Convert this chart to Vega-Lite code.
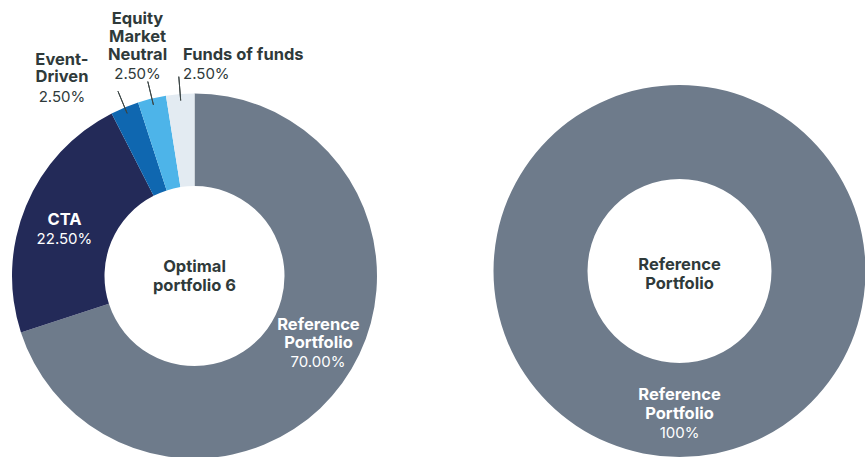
{
  "$schema": "https://vega.github.io/schema/vega-lite/v6.json",
  "width": 865,
  "height": 457,
  "padding": 0,
  "autosize": {"type": "none"},
  "background": "white",
  "config": {"view": {"stroke": null}, "font": "Inter"},
  "datasets": {
    "optimal": [
      {"donut": "Optimal portfolio 6", "idx": 1, "segment": "Reference Portfolio", "name": "Reference\nPortfolio", "weight": 70, "pct": "70.00%"},
      {"donut": "Optimal portfolio 6", "idx": 2, "segment": "CTA", "name": "CTA", "weight": 22.5, "pct": "22.50%"},
      {"donut": "Optimal portfolio 6", "idx": 3, "segment": "Event-Driven", "name": "Event-\nDriven", "weight": 2.5, "pct": "2.50%"},
      {"donut": "Optimal portfolio 6", "idx": 4, "segment": "Equity Market Neutral", "name": "Equity\nMarket\nNeutral", "weight": 2.5, "pct": "2.50%"},
      {"donut": "Optimal portfolio 6", "idx": 5, "segment": "Funds of funds", "name": "Funds of funds", "weight": 2.5, "pct": "2.50%"}
    ],
    "reference": [
      {"donut": "Reference Portfolio", "idx": 1, "segment": "Reference Portfolio", "name": "Reference\nPortfolio", "weight": 100, "pct": "100%"}
    ],
    "centers": [
      {"donut": "Optimal portfolio 6", "title": "Optimal\nportfolio 6"},
      {"donut": "Reference Portfolio", "title": "Reference\nPortfolio"}
    ]
  },
  "encoding": {
    "x": {"field": "donut", "type": "nominal", "axis": null, "scale": {"type": "point", "padding": 0, "domain": ["Optimal portfolio 6", "Reference Portfolio"], "range": [194.5, 679.5]}},
    "y": {"field": "donut", "type": "nominal", "axis": null, "scale": {"type": "point", "padding": 0, "domain": ["Optimal portfolio 6", "Reference Portfolio"], "range": [276, 271]}}
  },
  "layer": [
    {
      "data": {"name": "optimal"},
      "mark": {"type": "arc", "radius": 182.5, "radius2": 90},
      "encoding": {
        "theta": {"field": "weight", "type": "quantitative", "stack": true},
        "order": {"field": "idx", "type": "quantitative"},
        "color": {"field": "segment", "type": "nominal", "legend": null, "scale": {"domain": ["Reference Portfolio", "CTA", "Event-Driven", "Equity Market Neutral", "Funds of funds"], "range": ["#6e7b8b", "#232a58", "#0f67b0", "#4db4e9", "#e3ebf2"]}}
      }
    },
    {
      "data": {"name": "reference"},
      "mark": {"type": "arc", "radius": 186, "radius2": 92},
      "encoding": {
        "theta": {"field": "weight", "type": "quantitative", "stack": true},
        "order": {"field": "idx", "type": "quantitative"},
        "color": {"field": "segment", "type": "nominal", "legend": null}
      }
    },
    {
      "data": {"name": "optimal"},
      "mark": {"type": "arc", "radius": 200, "radius2": 176, "padAngle": 0.4, "filled": false, "stroke": "#3b4545", "strokeWidth": 1},
      "encoding": {
        "theta": {"field": "weight", "type": "quantitative", "stack": true},
        "order": {"field": "idx", "type": "quantitative"},
        "detail": {"field": "segment"},
        "strokeOpacity": {"condition": {"test": "datum.idx >= 3", "value": 1}, "value": 0}
      }
    },
    {
      "data": {"name": "optimal"},
      "mark": {"type": "text", "radius": 140, "dx": 10.7, "dy": -28.3, "align": "center", "baseline": "alphabetic", "lineBreak": "\n", "lineHeight": 18.5, "fontSize": 16.5, "fontWeight": "bold", "color": "#ffffff"},
      "encoding": {
        "theta": {"field": "weight", "type": "quantitative", "stack": true},
        "order": {"field": "idx", "type": "quantitative"},
        "detail": {"field": "segment"},
        "text": {"condition": {"test": "datum.segment === 'Reference Portfolio'", "field": "name", "type": "nominal"}, "value": ""}
      }
    },
    {
      "data": {"name": "optimal"},
      "mark": {"type": "text", "radius": 140, "dx": 10.2, "dy": 8.7, "align": "center", "baseline": "alphabetic", "fontSize": 15, "fontWeight": "normal", "color": "#ffffff"},
      "encoding": {
        "theta": {"field": "weight", "type": "quantitative", "stack": true},
        "order": {"field": "idx", "type": "quantitative"},
        "detail": {"field": "segment"},
        "text": {"condition": {"test": "datum.segment === 'Reference Portfolio'", "field": "pct", "type": "nominal"}, "value": ""}
      }
    },
    {
      "data": {"name": "optimal"},
      "mark": {"type": "text", "radius": 140, "dx": -0.7, "dy": 2.6, "align": "center", "baseline": "alphabetic", "fontSize": 16.5, "fontWeight": "bold", "color": "#ffffff"},
      "encoding": {
        "theta": {"field": "weight", "type": "quantitative", "stack": true},
        "order": {"field": "idx", "type": "quantitative"},
        "detail": {"field": "segment"},
        "text": {"condition": {"test": "datum.segment === 'CTA'", "field": "name", "type": "nominal"}, "value": ""}
      }
    },
    {
      "data": {"name": "optimal"},
      "mark": {"type": "text", "radius": 140, "dx": -0.7, "dy": 21.6, "align": "center", "baseline": "alphabetic", "fontSize": 15, "fontWeight": "normal", "color": "#ffffff"},
      "encoding": {
        "theta": {"field": "weight", "type": "quantitative", "stack": true},
        "order": {"field": "idx", "type": "quantitative"},
        "detail": {"field": "segment"},
        "text": {"condition": {"test": "datum.segment === 'CTA'", "field": "pct", "type": "nominal"}, "value": ""}
      }
    },
    {
      "data": {"name": "optimal"},
      "mark": {"type": "text", "radius": 200, "dx": -56, "dy": -26.5, "align": "center", "baseline": "alphabetic", "lineBreak": "\n", "lineHeight": 17.5, "fontSize": 16.5, "fontWeight": "bold", "color": "#2f3a3a"},
      "encoding": {
        "theta": {"field": "weight", "type": "quantitative", "stack": true},
        "order": {"field": "idx", "type": "quantitative"},
        "detail": {"field": "segment"},
        "text": {"condition": {"test": "datum.segment === 'Event-Driven'", "field": "name", "type": "nominal"}, "value": ""}
      }
    },
    {
      "data": {"name": "optimal"},
      "mark": {"type": "text", "radius": 200, "dx": -56, "dy": 10.3, "align": "center", "baseline": "alphabetic", "fontSize": 15, "fontWeight": "normal", "color": "#2f3a3a"},
      "encoding": {
        "theta": {"field": "weight", "type": "quantitative", "stack": true},
        "order": {"field": "idx", "type": "quantitative"},
        "detail": {"field": "segment"},
        "text": {"condition": {"test": "datum.segment === 'Event-Driven'", "field": "pct", "type": "nominal"}, "value": ""}
      }
    },
    {
      "data": {"name": "optimal"},
      "mark": {"type": "text", "radius": 200, "dx": -10.3, "dy": -57.5, "align": "center", "baseline": "alphabetic", "lineBreak": "\n", "lineHeight": 18, "fontSize": 16.5, "fontWeight": "bold", "color": "#2f3a3a"},
      "encoding": {
        "theta": {"field": "weight", "type": "quantitative", "stack": true},
        "order": {"field": "idx", "type": "quantitative"},
        "detail": {"field": "segment"},
        "text": {"condition": {"test": "datum.segment === 'Equity Market Neutral'", "field": "name", "type": "nominal"}, "value": ""}
      }
    },
    {
      "data": {"name": "optimal"},
      "mark": {"type": "text", "radius": 200, "dx": -10.3, "dy": -2.5, "align": "center", "baseline": "alphabetic", "fontSize": 15, "fontWeight": "normal", "color": "#2f3a3a"},
      "encoding": {
        "theta": {"field": "weight", "type": "quantitative", "stack": true},
        "order": {"field": "idx", "type": "quantitative"},
        "detail": {"field": "segment"},
        "text": {"condition": {"test": "datum.segment === 'Equity Market Neutral'", "field": "pct", "type": "nominal"}, "value": ""}
      }
    },
    {
      "data": {"name": "optimal"},
      "mark": {"type": "text", "radius": 200, "dx": 4.2, "dy": -16.6, "align": "left", "baseline": "alphabetic", "fontSize": 16.5, "fontWeight": "bold", "color": "#2f3a3a"},
      "encoding": {
        "theta": {"field": "weight", "type": "quantitative", "stack": true},
        "order": {"field": "idx", "type": "quantitative"},
        "detail": {"field": "segment"},
        "text": {"condition": {"test": "datum.segment === 'Funds of funds'", "field": "name", "type": "nominal"}, "value": ""}
      }
    },
    {
      "data": {"name": "optimal"},
      "mark": {"type": "text", "radius": 200, "dx": 4.2, "dy": 2.4, "align": "left", "baseline": "alphabetic", "fontSize": 15, "fontWeight": "normal", "color": "#2f3a3a"},
      "encoding": {
        "theta": {"field": "weight", "type": "quantitative", "stack": true},
        "order": {"field": "idx", "type": "quantitative"},
        "detail": {"field": "segment"},
        "text": {"condition": {"test": "datum.segment === 'Funds of funds'", "field": "pct", "type": "nominal"}, "value": ""}
      }
    },
    {
      "data": {"name": "reference"},
      "mark": {"type": "text", "radius": 140, "dy": -11, "align": "center", "baseline": "alphabetic", "lineBreak": "\n", "lineHeight": 19, "fontSize": 16.5, "fontWeight": "bold", "color": "#ffffff"},
      "encoding": {
        "theta": {"field": "weight", "type": "quantitative", "stack": true},
        "order": {"field": "idx", "type": "quantitative"},
        "detail": {"field": "segment"},
        "text": {"field": "name", "type": "nominal"}
      }
    },
    {
      "data": {"name": "reference"},
      "mark": {"type": "text", "radius": 140, "dy": 27, "align": "center", "baseline": "alphabetic", "fontSize": 15, "fontWeight": "normal", "color": "#ffffff"},
      "encoding": {
        "theta": {"field": "weight", "type": "quantitative", "stack": true},
        "order": {"field": "idx", "type": "quantitative"},
        "detail": {"field": "segment"},
        "text": {"field": "pct", "type": "nominal"}
      }
    },
    {
      "data": {"name": "centers"},
      "transform": [{"filter": "datum.donut === 'Optimal portfolio 6'"}],
      "mark": {"type": "text", "dy": -4, "align": "center", "baseline": "alphabetic", "lineBreak": "\n", "lineHeight": 18.5, "fontSize": 16.5, "fontWeight": "bold", "color": "#2f3a3a"},
      "encoding": {"text": {"field": "title", "type": "nominal"}}
    },
    {
      "data": {"name": "centers"},
      "transform": [{"filter": "datum.donut === 'Reference Portfolio'"}],
      "mark": {"type": "text", "dy": -1, "align": "center", "baseline": "alphabetic", "lineBreak": "\n", "lineHeight": 19, "fontSize": 16.5, "fontWeight": "bold", "color": "#2f3a3a"},
      "encoding": {"text": {"field": "title", "type": "nominal"}}
    }
  ]
}
